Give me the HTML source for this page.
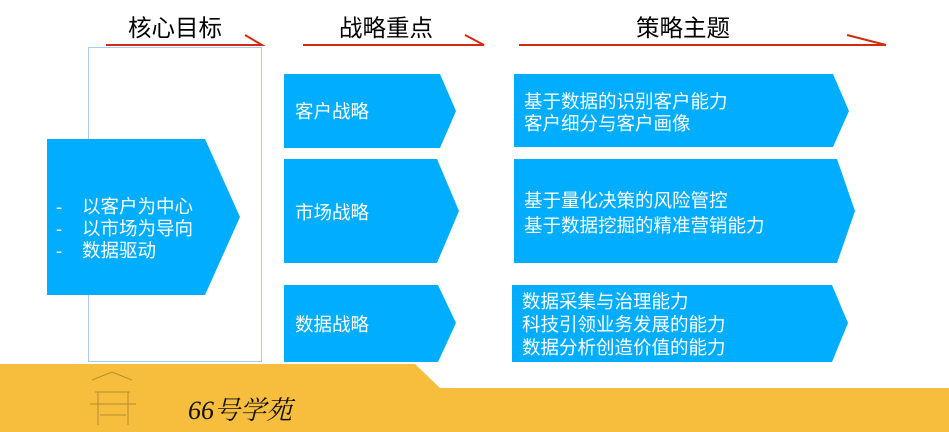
<!DOCTYPE html>
<html><head><meta charset="utf-8"><style>
body{margin:0;width:949px;height:432px;overflow:hidden;background:#fff;font-family:"Liberation Sans","Noto Sans CJK SC",sans-serif;position:relative}
.t{position:absolute;color:#fff;font-size:18.5px;line-height:22px;white-space:nowrap}
.h{position:absolute;font-size:23.5px;color:#000;top:9px}
</style></head><body>
<svg width="949" height="432" style="position:absolute;left:0;top:0">
<polygon points="0,364 415,364 440,388 949,388 949,432 0,432" fill="#f6be3c"/>
<rect x="88.5" y="47.5" width="173" height="314" fill="none" stroke="#a9cde8" stroke-width="1"/>
<g fill="#00adff">
<polygon points="47,139 205,139 240,217 205,295 47,295"/>
<polygon points="284,74 440,74 456,111 440,148 284,148"/>
<polygon points="284,159 437,159 459,211 437,263 284,263"/>
<polygon points="284,285 438,285 456,323 438,362 284,362"/>
<polygon points="514,74 833,74 849,111 833,147 514,147"/>
<polygon points="514,159 837,159 855,211 837,263 514,263"/>
<polygon points="512,285 832,285 848,323 832,362 512,362"/>
</g>
<g stroke="#d42a10" stroke-width="2" fill="none">
<path d="M106,45 H262 L245,35"/>
<path d="M303,45 H484 L465,35"/>
<path d="M519,45 H886 L847,35"/>
</g>
<g stroke="#8a6a30" stroke-width="1" fill="none" opacity="0.6">
<path d="M92,380 L112,372 L132,380 M95,392 H130 M98,392 V425 M128,392 V425 M90,404 H136 M100,415 H126"/>
</g>
</svg>
<div class="h" style="left:128px">核心目标</div>
<div class="h" style="left:339px">战略重点</div>
<div class="h" style="left:636px">策略主题</div>
<div class="t" style="left:56px;top:196px">-<br>-<br>-</div>
<div class="t" style="left:82px;top:196px">以客户为中心<br>以市场为导向<br>数据驱动</div>
<div class="t" style="left:295px;top:101px">客户战略</div>
<div class="t" style="left:295px;top:202px">市场战略</div>
<div class="t" style="left:295px;top:314px">数据战略</div>
<div class="t" style="left:524px;top:91px">基于数据的识别客户能力<br>客户细分与客户画像</div>
<div class="t" style="left:524px;top:188px;line-height:25px">基于量化决策的风险管控<br>基于数据挖掘的精准营销能力</div>
<div class="t" style="left:522px;top:290px;line-height:23px">数据采集与治理能力<br>科技引领业务发展的能力<br>数据分析创造价值的能力</div>
<div style="position:absolute;left:188px;top:390px;font-size:26px;font-style:italic;color:#111;font-family:'Liberation Serif','Noto Serif CJK SC',serif">66号学苑</div>
</body></html>
